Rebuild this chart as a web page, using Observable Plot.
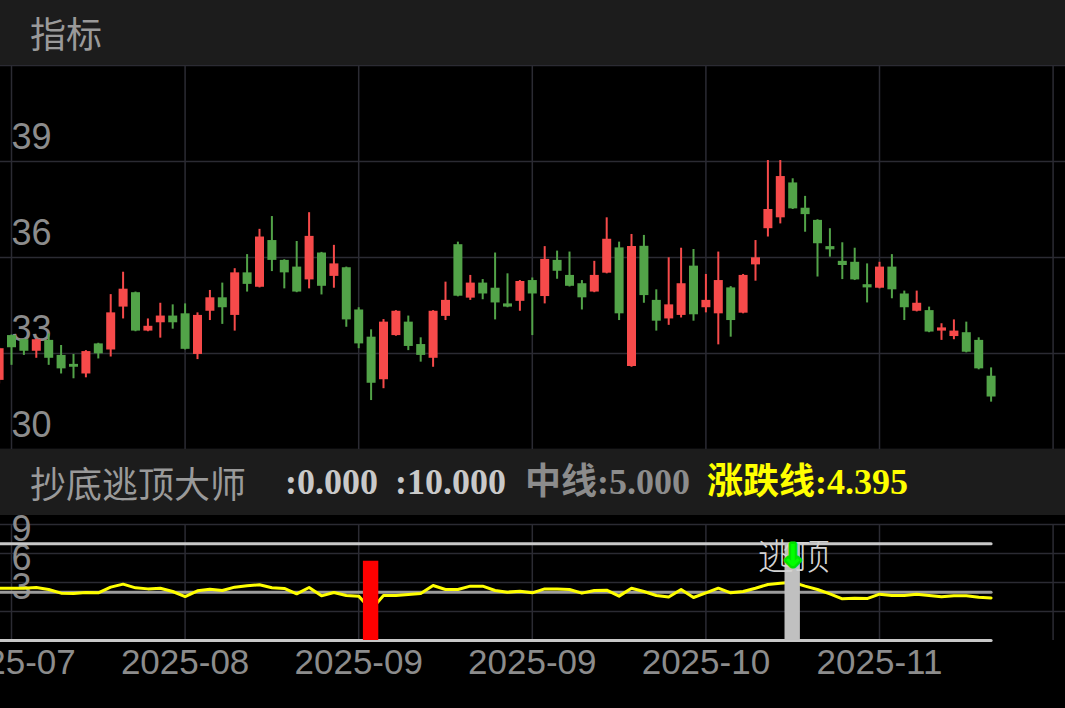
<!DOCTYPE html>
<html><head><meta charset="utf-8">
<script src="https://cdn.jsdelivr.net/npm/d3@7"></script>
<script src="https://cdn.jsdelivr.net/npm/@observablehq/plot@0.6"></script>
<style>
html,body{margin:0;padding:0;background:#000;}
#wrap{position:relative;width:1065px;height:708px;overflow:hidden;background:#000;font-family:"Noto Sans CJK SC",sans-serif;}
.bar{position:absolute;left:0;width:1065px;background:#1c1c1c;z-index:2;}
.bar span{position:absolute;top:0;white-space:nowrap;}
#main{position:absolute;left:0;top:65px;}
#sub{position:absolute;left:0;top:515px;}
.num{font-family:"Liberation Serif","Noto Sans CJK SC",serif;font-weight:bold;}
</style></head>
<body>
<div id="wrap">
  <div class="bar" id="bar1" style="top:0;height:65px;"></div>
  <div id="main"></div>
  <div class="bar" id="bar2" style="top:449px;height:66px;"></div>
  <div id="sub"></div>
</div>
<script>
// ---------- data ----------
const open  = [32.16,33.56,33.43,33.07,33.41,32.94,32.66,32.36,33.30,33.11,34.45,34.90,33.70,33.96,34.17,34.24,32.97,34.32,34.74,34.19,35.52,35.07,36.53,35.91,35.70,35.30,36.14,35.41,35.68,34.36,33.51,32.18,33.56,33.98,33.28,32.85,34.16,36.40,34.73,35.20,35.04,34.55,34.63,35.28,34.78,35.91,35.44,35.18,34.92,35.51,36.30,32.59,36.35,34.66,34.08,34.19,35.73,34.43,34.24,35.05,34.26,35.77,36.90,37.24,38.33,37.54,37.16,36.34,35.88,35.85,35.15,35.04,35.70,34.86,34.32,34.34,33.70,33.53,33.65,33.41,32.29];
const close = [33.15,33.18,33.07,33.43,32.85,32.52,32.57,33.06,32.99,34.27,35.01,33.70,33.85,34.17,33.96,33.13,34.19,34.74,34.43,35.52,35.16,36.64,35.91,35.52,34.92,36.66,35.10,35.80,34.05,33.30,32.07,33.98,34.32,33.22,32.94,34.32,34.66,34.79,35.20,34.86,34.58,34.45,35.25,34.86,35.94,35.57,35.10,34.74,35.44,36.57,34.24,36.34,34.81,34.01,34.52,35.18,34.21,34.66,35.28,34.03,35.44,35.99,37.50,38.53,37.52,37.34,36.43,36.24,35.75,35.30,35.05,35.70,34.99,34.43,34.57,33.67,33.80,33.70,33.04,32.52,31.64];
const high  = [33.17,33.58,33.45,33.45,33.61,33.25,32.97,33.09,33.32,34.84,35.54,34.92,34.08,34.57,34.52,34.55,34.27,34.97,35.20,35.65,36.09,36.88,37.28,35.93,36.50,37.40,36.16,36.38,35.70,34.43,33.74,34.06,34.34,34.17,33.49,34.34,35.23,36.48,35.44,35.31,36.14,35.49,35.28,35.36,36.34,36.20,36.17,35.28,35.88,37.24,36.48,36.72,36.69,34.99,35.99,36.29,36.25,35.47,36.17,35.09,35.47,36.53,39.03,39.03,38.46,37.91,37.18,36.90,36.46,36.29,35.80,35.85,36.09,34.95,34.95,34.45,33.93,34.05,33.98,33.49,32.55];
const low   = [32.05,32.63,32.94,32.85,32.63,32.36,32.21,32.24,32.83,32.89,34.08,33.68,33.68,33.48,33.76,33.11,32.81,34.03,33.91,33.70,34.92,35.05,35.56,35.02,34.90,35.02,34.83,35.04,33.82,33.15,31.53,31.90,33.54,33.09,32.73,32.57,34.03,34.77,34.66,34.68,34.05,34.43,34.32,33.56,34.55,35.32,35.08,34.36,34.90,35.49,34.03,32.57,34.57,33.70,33.88,34.11,34.01,34.27,33.27,33.51,34.24,35.26,36.64,37.05,37.50,36.79,35.39,36.01,35.31,35.28,34.58,35.02,34.71,34.03,34.30,33.65,33.41,33.43,33.02,32.49,31.48];

// 涨跌线 (indicator line)
const riseFall = [5.41,5.41,5.41,5.48,5.28,4.90,4.86,4.97,4.93,5.52,5.83,5.45,5.34,5.41,5.07,4.55,5.14,5.31,5.17,5.52,5.66,5.76,5.45,5.38,4.83,5.48,4.62,4.96,4.66,4.59,3.17,4.66,4.66,4.76,4.86,5.69,5.28,5.28,5.62,5.62,5.17,5.00,5.10,4.93,5.34,5.34,5.28,4.90,5.17,5.21,4.59,5.41,5.07,4.66,4.50,5.28,4.45,4.93,5.41,4.93,5.07,5.41,5.79,5.93,6.03,5.62,5.28,4.83,4.31,4.38,4.34,4.79,4.66,4.66,4.79,4.66,4.52,4.62,4.62,4.48,4.395];

const bottomLine = 0;     // 底
const topLine = 10;       // 顶
const midLine = 5;        // 中线

// signals: 抄底 (red bar) and 逃顶 (gray bar)
const buySignals  = [{i: 30, v: 8.2}];
const sellSignals = [{i: 64, v: 10, label: "逃顶", labelY: 8.5, arrowY: 8.7}];

// axes
const tickIdx    = [1, 15, 29, 43, 57, 71, 85];
const tickLabels = ["2025-07","2025-08","2025-09","2025-09","2025-10","2025-11",""];
const priceTicks = [30, 33, 36, 39, 42];
const priceLabels = [30, 33, 36, 39];
const indTicks   = [3, 6, 9, 12];
const indLabels  = [3, 6, 9];

const panelTitle = "指标";
const indName = "抄底逃顶大师";

// ---------- styling ----------
const RED = "#f64a4a", GREEN = "#52a348", GRID = "#2b2b33", LABEL = "#8c8c8c";
const step = 12.4;
const xCfg = {type: "linear", domain: [1, 85], range: [11, 11 + 84 * step], axis: null};
const idx = d3.range(open.length);
const col = i => close[i] >= open[i] ? RED : GREEN;
const baseStyle = {background: "#000", overflow: "hidden", fontFamily: '"Liberation Sans", Arial, "Noto Sans CJK SC", sans-serif'};

// headers
const b1 = document.getElementById("bar1");
b1.innerHTML = `<span style="left:30px;line-height:65px;font-size:36px;color:#9a9a9a">${panelTitle}</span>`;
const b2 = document.getElementById("bar2");
const items = [
  {label: "", value: bottomLine, color: "#c9c9c9", left: 285},
  {label: "", value: topLine, color: "#c9c9c9", left: 395},
  {label: "中线", value: midLine, color: "#8c8c8c", left: 525},
  {label: "涨跌线", value: riseFall[riseFall.length - 1], color: "#ffff00", left: 707}
];
b2.innerHTML = `<span style="left:30px;line-height:66px;font-size:36px;color:#9a9a9a">${indName}</span>` +
  items.map(d => `<span class="num" style="left:${d.left}px;line-height:66px;font-size:36px;color:${d.color}">${d.label}:${d.value.toFixed(3)}</span>`).join("");

// main candlestick panel
const main = Plot.plot({
  width: 1065, height: 385, margin: 0,
  style: baseStyle,
  x: xCfg,
  y: {domain: [30, 42], range: [384, 0], axis: null},
  marks: [
    Plot.ruleY(priceTicks, {stroke: GRID, strokeWidth: 1.5}),
    Plot.ruleX(tickIdx, {stroke: GRID, strokeWidth: 1.5}),
    Plot.text(priceLabels, {y: d => d, text: d => String(d), frameAnchor: "left", dx: 11, dy: -24, textAnchor: "start", fill: LABEL, fontSize: 36}),
    Plot.ruleX(idx, {x: i => i, y1: i => low[i], y2: i => high[i], stroke: col, strokeWidth: 2}),
    Plot.ruleX(idx, {x: i => i, y1: i => open[i], y2: i => close[i], stroke: col, strokeWidth: 9})
  ]
});
document.getElementById("main").appendChild(main);

// indicator panel
const sub = Plot.plot({
  width: 1065, height: 193, margin: 0,
  style: {...baseStyle, overflow: "visible"},
  x: xCfg,
  y: {domain: [0, 12], range: [125, 9], axis: null},
  marks: [
    Plot.ruleY(indTicks, {stroke: GRID, strokeWidth: 1.5}),
    Plot.ruleX(tickIdx, {y1: 0, y2: 12, stroke: GRID, strokeWidth: 1.5}),
    Plot.text(indLabels, {y: d => d, text: d => String(d), frameAnchor: "left", dx: 11, dy: -24, textAnchor: "start", fill: LABEL, fontSize: 36}),
    Plot.lineY(idx, {x: i => i, y: () => topLine, stroke: "#c8c8c8", strokeWidth: 3}),
    Plot.lineY(idx, {x: i => i, y: () => midLine, stroke: "#9c9c9c", strokeWidth: 3}),
    Plot.lineY(idx, {x: i => i, y: () => bottomLine, stroke: "#c8c8c8", strokeWidth: 3}),
    Plot.lineY(riseFall, {x: (d, i) => i, y: d => d, stroke: "#ffff00", strokeWidth: 3}),
    Plot.rect(buySignals, {x1: d => d.i - 0.62, x2: d => d.i + 0.62, y1: () => 0, y2: d => d.v, fill: "#ff0000"}),
    Plot.rect(sellSignals, {x1: d => d.i - 0.62, x2: d => d.i + 0.62, y1: () => 0, y2: d => d.v, fill: "#c0c0c0"}),
    Plot.text(sellSignals, {x: d => d.i, y: d => d.labelY, text: d => d.label, dx: 1, fill: "#d4d4d4", fontSize: 36, fontWeight: 300, fontFamily: "Noto Sans CJK SC"}),
    Plot.text(sellSignals, {x: d => d.i, y: d => d.arrowY, text: () => "↓", fill: "#00ff00", stroke: "#00e000", strokeWidth: 5, fontSize: 30, fontWeight: "bold", fontFamily: "DejaVu Sans"}),
    Plot.text(tickIdx, {x: d => d, text: (d, i) => tickLabels[i], frameAnchor: "bottom", dy: -35, fill: LABEL, fontSize: 35})
  ]
});
document.getElementById("sub").appendChild(sub);
</script>
</body></html>
